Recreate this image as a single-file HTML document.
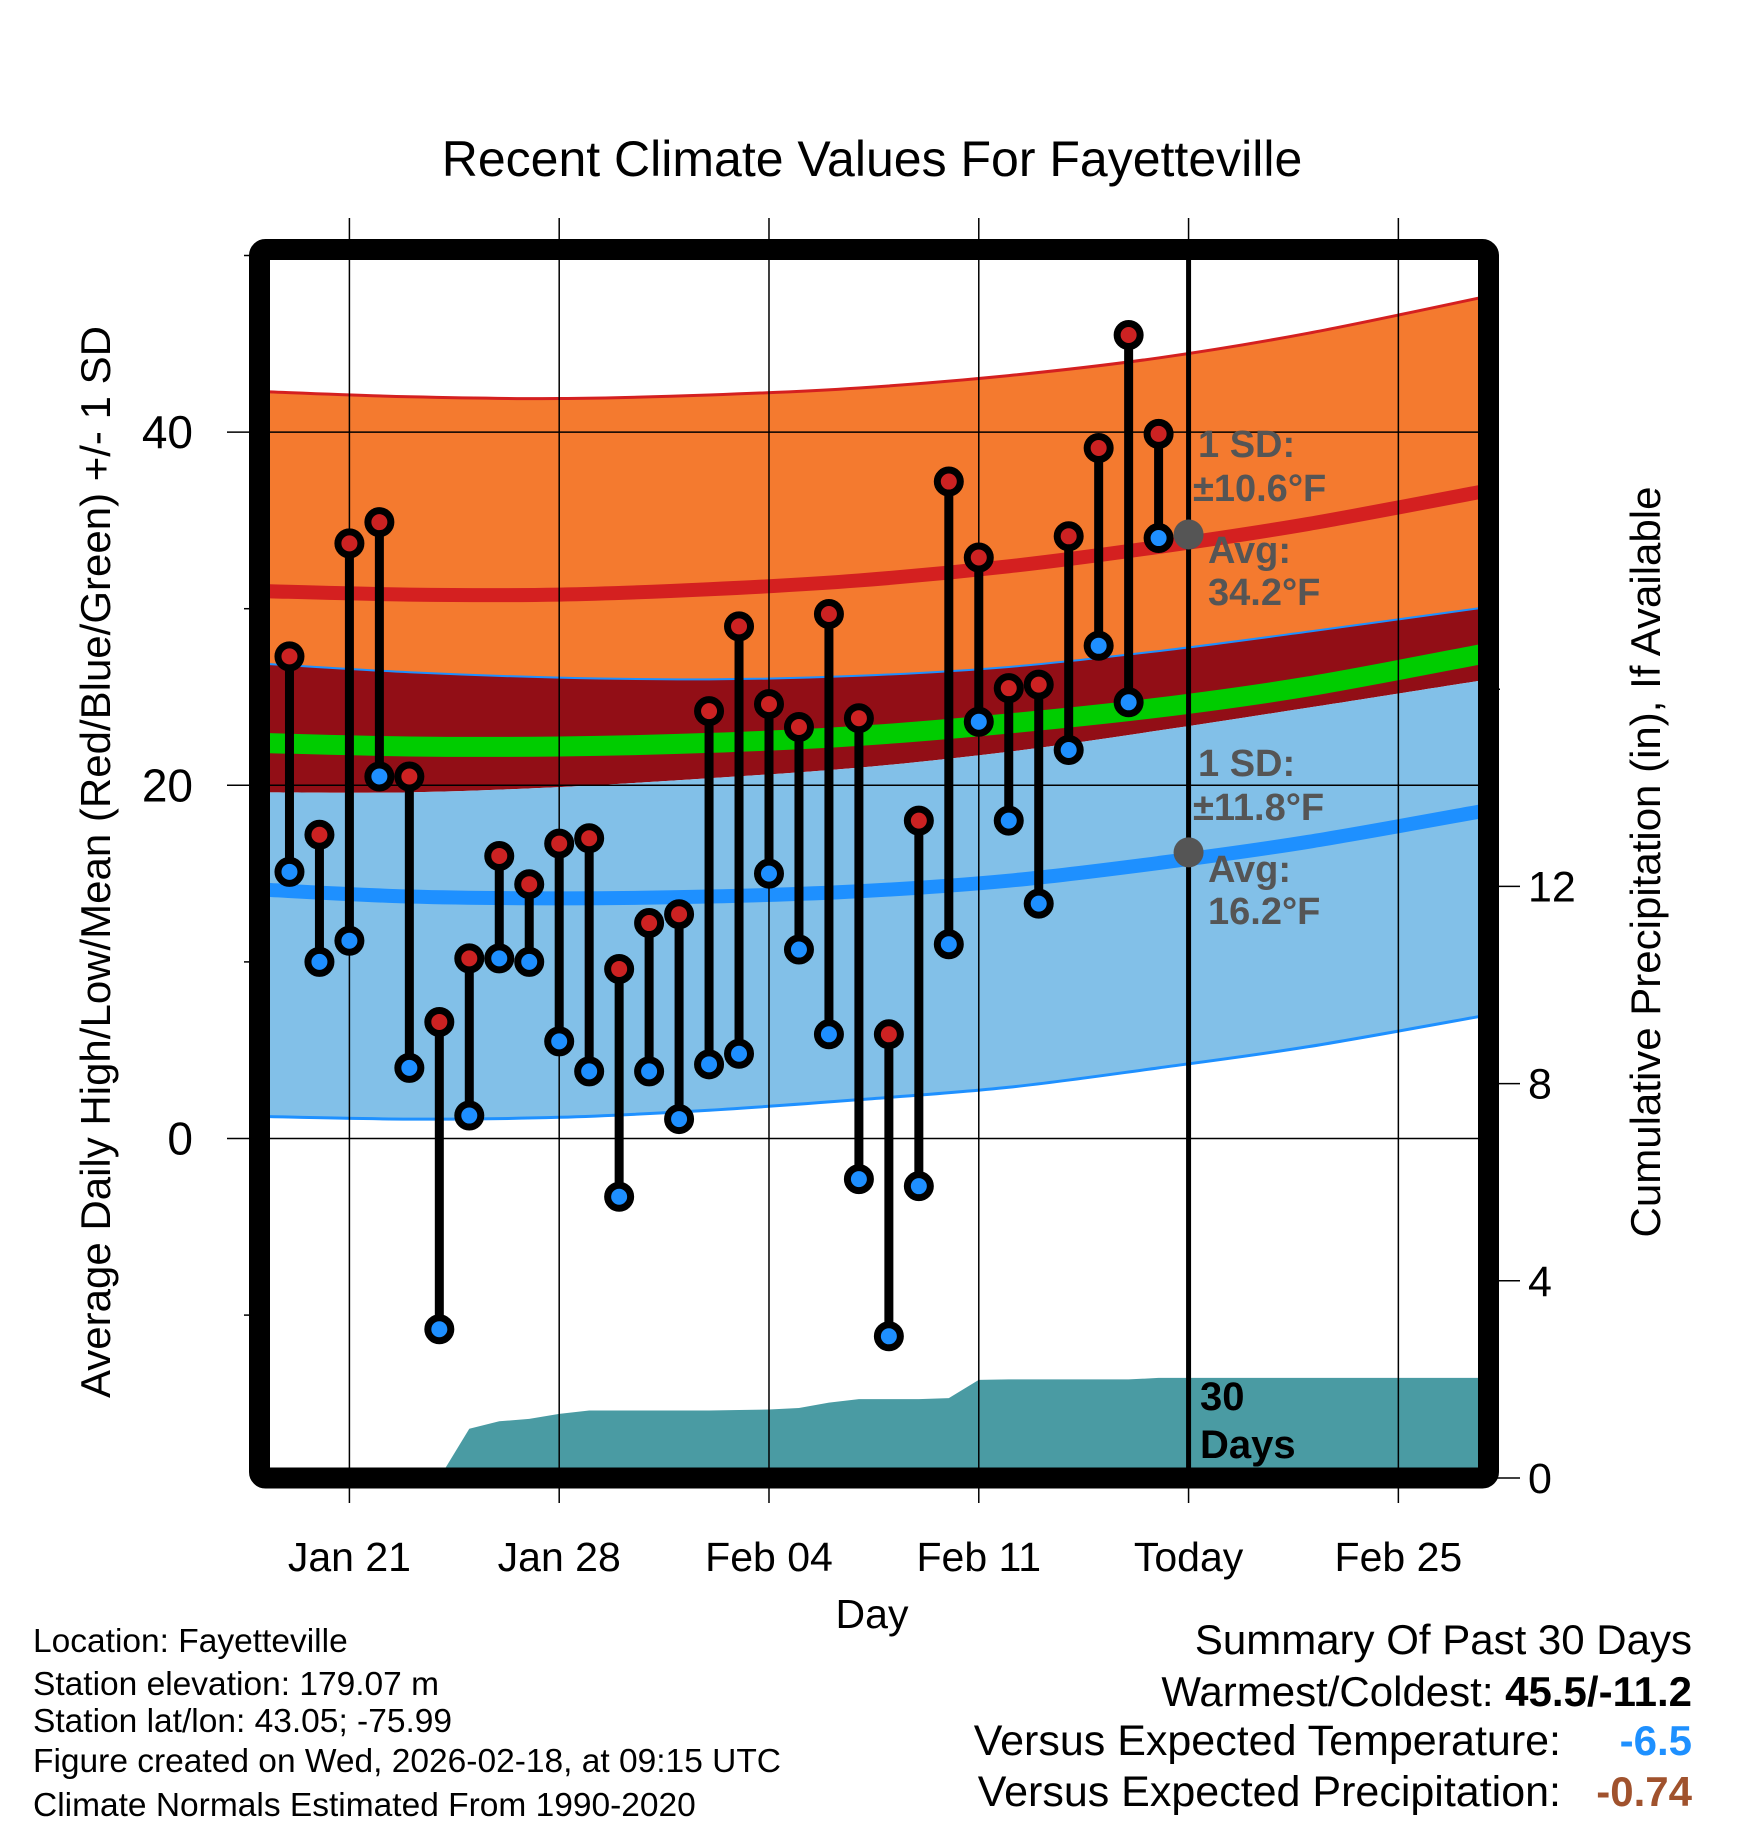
<!DOCTYPE html>
<html><head><meta charset="utf-8"><style>
body{margin:0;background:#fff;}
svg{display:block;font-family:"Liberation Sans",sans-serif;}
</style></head><body>
<svg id="chart" width="1748" height="1828" viewBox="0 0 1748 1828" xmlns="http://www.w3.org/2000/svg">
<g id="layer"></g>
</svg>
<script>
// ---- data ----
const dayLabels = ["Jan 21","Jan 28","Feb 04","Feb 11","Today","Feb 25"];
const dayLabelOffsets = [3,10,17,24,31,38]; // days since Jan 18
const highs = [27.3,17.2,33.7,34.9,20.5,6.6,10.2,16.0,14.4,16.7,17.0,9.6,12.2,12.7,24.2,29.0,24.6,23.3,29.7,23.8,5.9,18.0,37.2,32.9,25.5,25.7,34.1,39.1,45.5,39.9];
const lows = [15.1,10.0,11.2,20.5,4.0,-10.8,1.3,10.2,10.0,5.5,3.8,-3.3,3.8,1.1,4.2,4.8,15.0,10.7,5.9,-2.3,-11.2,-2.7,11.0,23.6,18.0,13.3,22.0,27.9,24.7,34.0];
const firstDay = 1; // Jan 19
const normDays = [0,5,10,15,20,25,30,35,41];
const highUpper = [42.3,42.0,41.9,42.1,42.5,43.2,44.2,45.6,47.7];
const highMean = [31.0,30.8,30.8,31.1,31.6,32.4,33.5,34.8,36.7];
const highLower = [26.9,26.4,26.1,26.0,26.2,26.7,27.6,28.7,30.1];
const avgMean = [22.4,22.2,22.2,22.4,22.8,23.5,24.4,25.6,27.5];
const lowUpper = [19.6,19.6,19.9,20.4,21.0,21.9,23.1,24.4,26.0];
const lowMean = [14.1,13.7,13.6,13.7,14.0,14.6,15.6,16.8,18.6];
const lowLower = [1.25,1.1,1.2,1.6,2.2,2.9,4.0,5.2,7.0];
const precipDays = [1,2,3,4,5,6,7,8,9,10,11,12,13,14,15,16,17,18,19,20,21,22,23,24,25,26,27,28,29,30,41];
const precip = [0,0,0,0,0,0,1.0,1.15,1.2,1.3,1.37,1.37,1.37,1.37,1.37,1.38,1.39,1.42,1.53,1.6,1.6,1.6,1.62,1.99,2.0,2.0,2.0,2.0,2.0,2.03,2.03];
const leftTicks = [0,20,40];
const leftMinor = [-10,10,30,50];
const rightTicks = [0,4,8,12];
const todayDay = 31;
const highAvgToday = 34.2, lowAvgToday = 16.2;

// ---- axes ----
const X0=259.5, PXD=29.97;
const x = d => X0 + d*PXD;
const y = t => 1138.5 - t*17.66;
const yp = p => 1478 - p*49.3;
const IL=270, IR=1478, IT=260, IB=1468;

const NS="http://www.w3.org/2000/svg";
const L=document.getElementById('layer');
function mk(tag, attrs, parent){const e=document.createElementNS(NS,tag);for(const k in attrs)e.setAttribute(k,attrs[k]);(parent||L).appendChild(e);return e;}
function txt(s, attrs){const e=mk('text',attrs);e.textContent=s;return e;}

const defs=mk('defs',{});
const cp=mk('clipPath',{id:'plotclip'},defs);
mk('rect',{x:IL,y:IT,width:IR-IL,height:IB-IT},cp);
const G=mk('g',{'clip-path':'url(#plotclip)'});

// smooth curve through points (Catmull-Rom)
function smooth(pts, move){
  let d=move?('M'+pts[0][0]+','+pts[0][1]):('L'+pts[0][0]+','+pts[0][1]);
  for(let i=0;i<pts.length-1;i++){
    const p0=pts[Math.max(i-1,0)],p1=pts[i],p2=pts[i+1],p3=pts[Math.min(i+2,pts.length-1)];
    const c1=[p1[0]+(p2[0]-p0[0])/6,p1[1]+(p2[1]-p0[1])/6];
    const c2=[p2[0]-(p3[0]-p1[0])/6,p2[1]-(p3[1]-p1[1])/6];
    d+='C'+c1[0]+','+c1[1]+' '+c2[0]+','+c2[1]+' '+p2[0]+','+p2[1];
  }
  return d;
}
const pts = arr => normDays.map((n,i)=>[x(n),y(arr[i])]);
function bandPath(up, lo){ return smooth(pts(up),true)+smooth(pts(lo).reverse(),false)+'Z'; }
function linePath(arr){ return smooth(pts(arr),true); }

let e;
e=mk('path',{d:bandPath(highUpper,highLower),fill:'#F47A2F'},G);


e=mk('path',{d:bandPath(highLower,lowUpper),fill:'#920E16'},G);


e=mk('path',{d:bandPath(lowUpper,lowLower),fill:'#82C0E8'},G);


mk('path',{d:linePath(highUpper),fill:'none',stroke:'#D42020','stroke-width':3},G);
mk('path',{d:linePath(highLower),fill:'none',stroke:'#1E90FF','stroke-width':2},G);
mk('path',{d:linePath(lowLower),fill:'none',stroke:'#1E90FF','stroke-width':3},G);
e=mk('path',{d:linePath(highMean),fill:'none',stroke:'#D42020','stroke-width':14},G);


e=mk('path',{d:linePath(avgMean),fill:'none',stroke:'#00CC00','stroke-width':20},G);


e=mk('path',{d:linePath(lowMean),fill:'none',stroke:'#1E90FF','stroke-width':14},G);



// precip area
let pd='M'+x(precipDays[0])+','+yp(0);
precipDays.forEach((d,i)=>{pd+='L'+x(d)+','+yp(precip[i]);});
pd+='L'+x(precipDays[precipDays.length-1])+','+yp(0)+'Z';
e=mk('path',{d:pd,fill:'#4A9BA3'},G);



// grid
dayLabelOffsets.forEach(d=>{mk('line',{x1:x(d),x2:x(d),y1:218,y2:1503,stroke:'#000','stroke-width':1.5});});
leftTicks.forEach(t=>{mk('line',{x1:227,x2:IR,y1:y(t),y2:y(t),stroke:'#000','stroke-width':1.5});});
leftMinor.forEach(t=>{mk('line',{x1:244,x2:260,y1:y(t),y2:y(t),stroke:'#000','stroke-width':1.5});});
rightTicks.forEach(p=>{mk('line',{x1:1478,x2:1520,y1:yp(p),y2:yp(p),stroke:'#000','stroke-width':1.5});});
mk('line',{x1:1478,x2:1500,y1:yp(16),y2:yp(16),stroke:'#000','stroke-width':1.5});

// today line
e=mk('line',{x1:x(todayDay),x2:x(todayDay),y1:255,y2:1470,stroke:'#000','stroke-width':5});



// stems & points
highs.forEach((h,i)=>{
  const d=firstDay+i, lo=lows[i];
  const s=mk('line',{x1:x(d),x2:x(d),y1:y(h),y2:y(lo),stroke:'#000','stroke-width':9});
  
  
});
highs.forEach((h,i)=>{
  const d=firstDay+i;
  const c1=mk('circle',{cx:x(d),cy:y(lows[i]),r:11.5,fill:'#1E8FFF',stroke:'#000','stroke-width':7});
  
  
  const c2=mk('circle',{cx:x(d),cy:y(h),r:11.5,fill:'#CC2222',stroke:'#000','stroke-width':7});
  
  
});
mk('circle',{cx:x(todayDay),cy:y(highAvgToday),r:15,fill:'#555'});
mk('circle',{cx:x(todayDay),cy:y(lowAvgToday),r:15,fill:'#555'});

// frame
e=mk('rect',{x:259.5,y:249.5,width:1229,height:1228.5,fill:'none',stroke:'#000','stroke-width':21,rx:6});



// annotations
const ann=[["1 SD:",1198,457],["±10.6°F",1193,501],["Avg:",1208,563],["34.2°F",1208,605],
["1 SD:",1198,776],["±11.8°F",1193,820],["Avg:",1208,882],["16.2°F",1208,924]];
ann.forEach(a=>{const t=txt(a[0],{x:a[1],y:a[2],'font-size':38,'font-weight':'bold',fill:'#555'});

});
txt("30",{x:1200,y:1410,'font-size':40,'font-weight':'bold',fill:'#000'});
txt("Days",{x:1200,y:1458,'font-size':40,'font-weight':'bold',fill:'#000'});

// tick labels
dayLabels.forEach((s,i)=>{const t=txt(s,{x:x(dayLabelOffsets[i]),y:1571,'font-size':41,'text-anchor':'middle'});

});
leftTicks.forEach(v=>{const t=txt(String(v),{x:193,y:y(v)+16,'font-size':46,'text-anchor':'end'});

});
rightTicks.forEach(v=>{const t=txt(String(v),{x:1528,y:yp(v)+15,'font-size':43});

});

// titles
txt("Recent Climate Values For Fayetteville",{x:872,y:176,'font-size':50,'text-anchor':'middle'});
txt("Day",{x:872,y:1628,'font-size':41,'text-anchor':'middle'});
txt("Average Daily High/Low/Mean (Red/Blue/Green) +/- 1 SD",{x:0,y:0,'font-size':42,'text-anchor':'middle',transform:'translate(110,862) rotate(-90)'});
txt("Cumulative Precipitation (in), If Available",{x:0,y:0,'font-size':42,'text-anchor':'middle',transform:'translate(1660,862) rotate(-90)'});

// footer left
const fl=["Location: Fayetteville","Station elevation: 179.07 m","Station lat/lon: 43.05; -75.99","Figure created on Wed, 2026-02-18, at 09:15 UTC","Climate Normals Estimated From 1990-2020"];
const fly=[1652,1695,1732,1772,1816];
fl.forEach((s,i)=>{const t=txt(s,{x:33,y:fly[i],'font-size':33.5});

});
// footer right
txt("Summary Of Past 30 Days",{x:1692,y:1654,'font-size':42,'text-anchor':'end'});
const w=txt("Warmest/Coldest: ",{x:1692,y:1706,'font-size':42,'text-anchor':'end'});
const wb=document.createElementNS(NS,'tspan');wb.setAttribute('font-weight','bold');wb.textContent="45.5/-11.2";w.appendChild(wb);
txt("Versus Expected Temperature:",{x:1561,y:1755,'font-size':43,'text-anchor':'end'});
txt("-6.5",{x:1692,y:1755,'font-size':42,'text-anchor':'end','font-weight':'bold',fill:'#1E90FF'});
txt("Versus Expected Precipitation:",{x:1561,y:1806,'font-size':43,'text-anchor':'end'});
txt("-0.74",{x:1692,y:1806,'font-size':42,'text-anchor':'end','font-weight':'bold',fill:'#A0522D'});
</script>
</body></html>
